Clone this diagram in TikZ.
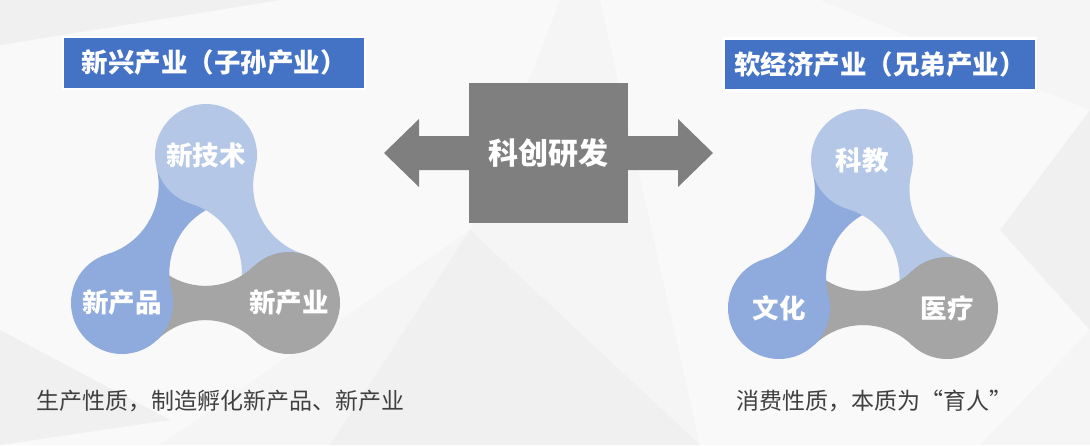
\documentclass[tikz,border=0pt]{standalone}
\usepackage{fontspec}
\usepackage{tikz}
\usetikzlibrary{calc}
\newfontfamily\cjk{Noto Sans CJK SC}
\definecolor{titleblue}{HTML}{4472C4}
\definecolor{lightblue}{HTML}{B4C7E7}
\definecolor{midblue}{HTML}{8FAADC}
\definecolor{midgray}{HTML}{A5A5A5}
\definecolor{boxgray}{HTML}{7F7F7F}
\definecolor{textgray}{HTML}{404040}
\definecolor{bgbase}{HTML}{F5F5F5}
\definecolor{bglight}{HTML}{F9F9F9}
\definecolor{bgdark}{HTML}{F0F0F0}

\begin{document}
\begin{tikzpicture}[x=1pt, y=-1pt,
  title/.style={draw=white, line width=2.5pt, fill=titleblue, minimum height=52pt, inner sep=0pt,
    text=white, font=\cjk\bfseries\fontsize{26.5}{30}\selectfont},
  blob/.style={circle, minimum size=102pt, inner sep=0pt, text=white,
    font=\cjk\bfseries\fontsize{26.5}{30}\selectfont},
  centre/.style={fill=boxgray, minimum width=159pt, minimum height=140pt, inner sep=0pt,
    text=white, font=\cjk\bfseries\fontsize{30}{34}\selectfont},
  note/.style={anchor=west, inner sep=0pt, text=textgray, font=\cjk\fontsize{23}{28}\selectfont},
]
  % background facets
  \fill[bgbase] (0,0) rectangle (1090,445);
  \fill[bglight] (0,45) -- (280,0) -- (560,0) -- (470,230) -- (160,445) -- (0,445) -- cycle;
  \fill[bgdark] (0,0) -- (280,0) -- (0,45) -- cycle;
  \fill[bglight] (600,0) -- (820,0) -- (1090,110) -- (1090,330) -- (980,445) -- (700,445) -- cycle;
  \fill[bgdark] (0,330) -- (170,420) -- (0,445) -- cycle;
  \fill[bgdark] (1090,110) -- (1090,330) -- (1000,230) -- cycle;
  \fill[bgdark] (470,230) -- (700,445) -- (330,445) -- cycle;
  \useasboundingbox (0,0) rectangle (1090,445);

  % centres of the two triples
  \coordinate (c-jishu) at (206,155);
  \coordinate (c-chanpin) at (122,303);
  \coordinate (c-chanye) at (289,303);
  \coordinate (c-kejiao) at (862,160);
  \coordinate (c-wenhua) at (779,308);
  \coordinate (c-yiliao) at (947,308);

  % necks: the half at \a goes under, the half at \b over
  \foreach \a/\b/\col [count=\i] in {c-jishu/c-chanpin/midblue, c-chanpin/c-chanye/midgray, c-chanye/c-jishu/lightblue,
                          c-kejiao/c-wenhua/midblue, c-wenhua/c-yiliao/midgray, c-yiliao/c-kejiao/lightblue}{
    \coordinate (m-\i) at ($(\a)!0.5!(\b)$);
    \coordinate (k1) at ($(m-\i)!89.3pt!90:(\b)$);
    \coordinate (k2) at ($(m-\i)!89.3pt!-90:(\b)$);
    \coordinate (p1-\i) at ($(m-\i)!10.6pt!(k2)$);
    \coordinate (p2-\i) at ($(m-\i)!10.6pt!(k1)$);
    \coordinate (s1-\i) at ($(\a)!51pt!(k1)$);
    \coordinate (e1-\i) at ($(\b)!51pt!(k1)$);
    \coordinate (s2-\i) at ($(\a)!51pt!(k2)$);
    \coordinate (e2-\i) at ($(\b)!51pt!(k2)$);
    \coordinate (mm-\i) at ($(m-\i)!2pt!(\b)$);
    \begin{scope}
      \clip ($(\a)!300pt!90:(\b)$) -- ($(mm-\i)!300pt!90:(\b)$) -- ($(mm-\i)!300pt!-90:(\b)$) -- ($(\a)!300pt!-90:(\b)$) -- cycle;
      \fill[\col] (\a) -- (s1-\i) .. controls ($(s1-\i)!0.56!(p1-\i)$) and ($(e1-\i)!0.56!(p1-\i)$) .. (e1-\i)
        -- (\b) -- (e2-\i) .. controls ($(e2-\i)!0.56!(p2-\i)$) and ($(s2-\i)!0.56!(p2-\i)$) .. (s2-\i) -- cycle;
    \end{scope}
  }
  \foreach \a/\b/\col [count=\i] in {c-jishu/c-chanpin/midblue, c-chanpin/c-chanye/midgray, c-chanye/c-jishu/lightblue,
                          c-kejiao/c-wenhua/midblue, c-wenhua/c-yiliao/midgray, c-yiliao/c-kejiao/lightblue}{
    \begin{scope}
      \clip ($(\b)!300pt!90:(\a)$) -- ($(m-\i)!300pt!90:(\a)$) -- ($(m-\i)!300pt!-90:(\a)$) -- ($(\b)!300pt!-90:(\a)$) -- cycle;
      \fill[\col] (\a) -- (s1-\i) .. controls ($(s1-\i)!0.56!(p1-\i)$) and ($(e1-\i)!0.56!(p1-\i)$) .. (e1-\i)
        -- (\b) -- (e2-\i) .. controls ($(e2-\i)!0.56!(p2-\i)$) and ($(s2-\i)!0.56!(p2-\i)$) .. (s2-\i) -- cycle;
    \end{scope}
  }

  \node[blob, fill=lightblue] (jishu) at (c-jishu) {新技术};
  \node[blob, fill=midblue] (chanpin) at (c-chanpin) {新产品};
  \node[blob, fill=midgray] (chanye) at (c-chanye) {新产业};
  \node[blob, fill=lightblue] (kejiao) at (c-kejiao) {科教};
  \node[blob, fill=midblue] (wenhua) at (c-wenhua) {文化};
  \node[blob, fill=midgray] (yiliao) at (c-yiliao) {医疗};

  % titles
  \node[title, minimum width=302pt] (xinxing) at (214,63) {新兴产业（子孙产业）};
  \node[title, minimum width=312pt] (ruanjingji) at (880,64.5) {软经济产业（兄弟产业）};

  % double arrow behind the centre box
  \fill[boxgray] (384,153) -- (419,119) -- (419,136) -- (678,136) -- (678,119) -- (713,153)
    -- (678,187) -- (678,170) -- (419,170) -- (419,187) -- cycle;
  \node[centre] (kechuang) at (548.5,153) {科创研发};

  % notes
  \node[note] (shengchan) at (36,401) {生产性质，制造孵化新产品、新产业};
  \node[note] (xiaofei) at (736,401) {消费性质，本质为“育人”};
\end{tikzpicture}
\end{document}
